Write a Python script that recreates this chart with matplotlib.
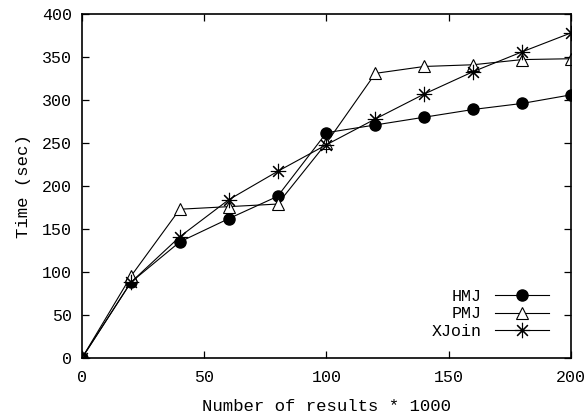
import matplotlib
matplotlib.use('Agg')
import matplotlib.pyplot as plt

# number of results (x1000)
resultados = [0, 20, 40, 60, 80, 100, 120, 140, 160, 180, 200]

# tempos em segundos
tempo_hmj = [0, 88, 135, 162, 188, 262, 271, 280, 289, 296, 306]
tempo_pmj = [0, 95, 173, 176, 179, 250, 331, 339, 341, 347, 348]
tempo_xjoin = [0, 88, 141, 184, 217, 248, 278, 307, 333, 356, 378]

plt.rcParams['font.family'] = ['Liberation Mono', 'DejaVu Sans Mono']

fig = plt.figure(figsize=(5.87, 4.17), dpi=100)
ax = fig.add_axes([0.1397, 0.1415, 0.833, 0.8249])

ax.plot(resultados, tempo_hmj, 'k-', marker='o', markersize=8, linewidth=0.8,
        label='HMJ')
ax.plot(resultados, tempo_pmj, 'k-', marker='^', markersize=9, linewidth=0.8,
        markerfacecolor='white', markeredgewidth=0.8, label='PMJ')
ax.plot(resultados, tempo_xjoin, 'k-', marker=(8, 2, 0), markersize=11,
        linewidth=0.8, markeredgewidth=0.8, label='XJoin')

ax.set_xlim(0, 200)
ax.set_ylim(0, 400)
ax.set_xticks([0, 50, 100, 150, 200])
ax.set_yticks(range(0, 401, 50))
ax.tick_params(axis='both', direction='in', top=True, right=True, length=5,
               width=0.9, labelsize=12, colors='black')
ax.tick_params(axis='x', pad=9)
ax.tick_params(axis='y', pad=7)
for lado in ax.spines.values():
    lado.set_linewidth(1.2)

ax.set_xlabel('Number of results * 1000', fontsize=12.5, labelpad=10)
ax.set_ylabel('Time (sec)', fontsize=12.5, labelpad=8)

ax.legend(loc='lower right', frameon=False, markerfirst=False, fontsize=12,
          handlelength=3.2, handletextpad=0.8, labelspacing=0.15,
          bbox_to_anchor=(0.985, 0.012))

fig.savefig('out.png', dpi=100)
